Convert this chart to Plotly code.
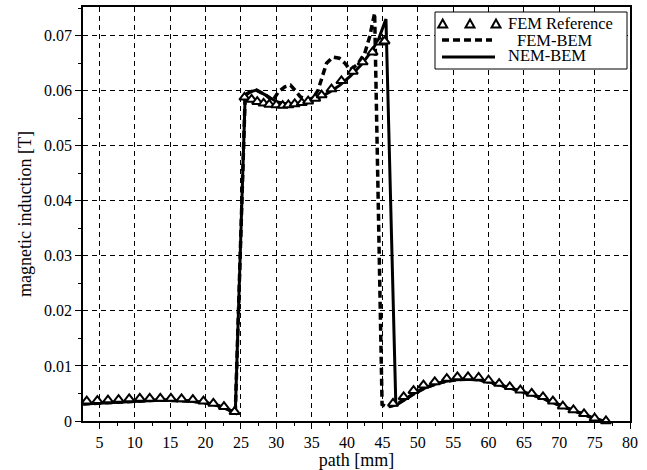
import plotly.graph_objects as go

# FEM Reference (triangles)
fem_x = [3.2, 4.7, 6.2, 7.7, 9.2, 10.7, 12.1, 13.6, 15.1, 16.6, 18.2, 19.7, 21.1, 22.6, 24.1,
         25.5, 26.5, 27.3, 28.2, 29.0, 30.0, 30.9, 31.7, 32.6, 33.6, 34.5, 35.5, 36.4, 37.8,
         39.2, 40.8, 42.2, 43.6, 44.7, 45.3,
         46.5, 48.0, 49.4, 50.8, 52.4, 54.1, 55.6, 57.1, 58.6, 60.0, 61.5, 63.0, 64.5, 66.1,
         67.7, 69.1, 70.5, 72.0, 73.5, 75.0, 76.6]
fem_y = [0.0036, 0.0037, 0.0038, 0.0039, 0.0040, 0.0041, 0.0041, 0.0041, 0.0041, 0.0040, 0.0039, 0.0036, 0.0032, 0.0026, 0.0017,
         0.0588, 0.0584, 0.0580, 0.0577, 0.0575, 0.0574, 0.0573, 0.0574, 0.0576, 0.0578, 0.0581, 0.0586, 0.0592, 0.0603,
         0.0618, 0.0635, 0.0652, 0.0670, 0.0688, 0.0690,
         0.0032, 0.0044, 0.0055, 0.0065, 0.0071, 0.0077, 0.0080, 0.0080, 0.0079, 0.0074, 0.0068, 0.0062, 0.0056, 0.0050,
         0.0044, 0.0036, 0.0027, 0.0020, 0.0013, 0.0005, 0.0000]

# NEM-BEM (solid)
nem_x = [2.7, 4, 6, 8, 10, 12, 14, 16, 18, 20, 21.5, 23, 24.2,
         25.6, 26.3, 27.2, 28.5, 30, 31.5, 33, 34.5, 36, 37.5, 39, 40.5, 42, 43.5, 44.5, 45.5,
         46.9, 48, 49.5, 51, 52.5, 54, 55.5, 57, 58.5, 60, 61.5, 63, 64.5, 66, 67.5, 69, 70.5,
         72, 73.5, 75, 76.2]
nem_y = [0.0031, 0.0032, 0.0033, 0.0035, 0.0036, 0.0037, 0.0038, 0.0037, 0.0036, 0.0033, 0.0029, 0.0022, 0.0015,
         0.0592, 0.0598, 0.0601, 0.0592, 0.0580, 0.0576, 0.0577, 0.0580, 0.0587, 0.0597, 0.0610, 0.0627, 0.0647, 0.0672, 0.0695, 0.0730,
         0.0028, 0.0038, 0.0050, 0.0060, 0.0067, 0.0072, 0.0075, 0.0076, 0.0075, 0.0071, 0.0066, 0.0060, 0.0054, 0.0048, 0.0042, 0.0034, 0.0026,
         0.0019, 0.0012, 0.0004, 0.0000]

# FEM-BEM (dashed)
fbem_x = [2.7, 4, 6, 8, 10, 12, 14, 16, 18, 20, 21.5, 23, 24.2,
          25.6, 26.3, 27.2, 28.5, 29.5, 30.3, 31.2, 32.0, 32.7, 33.4, 34.5, 35.3, 35.9, 36.5, 37.1, 38.0,
          38.9, 39.7, 40.4, 41.5, 42.5, 43.2, 43.9, 44.95, 45.5, 46.3,
          46.9, 48, 49.5, 51, 52.5, 54, 55.5, 57, 58.5, 60, 61.5, 63, 64.5, 66, 67.5, 69, 70.5,
          72, 73.5, 75, 76.2]
fbem_y = [0.0031, 0.0032, 0.0033, 0.0035, 0.0036, 0.0037, 0.0038, 0.0037, 0.0036, 0.0033, 0.0029, 0.0022, 0.0015,
          0.0592, 0.0598, 0.0601, 0.0592, 0.0582, 0.0598, 0.0607, 0.0610, 0.0600, 0.0589, 0.0582, 0.0588, 0.0601, 0.0625, 0.0650, 0.0661,
          0.0659, 0.0650, 0.0638, 0.0648, 0.0668, 0.0698, 0.0741, 0.0030, 0.0026, 0.0027,
          0.0030, 0.0038, 0.0050, 0.0060, 0.0067, 0.0072, 0.0075, 0.0076, 0.0075, 0.0071, 0.0066, 0.0060, 0.0054, 0.0048, 0.0042, 0.0034, 0.0026,
          0.0019, 0.0012, 0.0004, 0.0000]

x_ticks = [5, 10, 15, 20, 25, 30, 35, 40, 45, 50, 55, 60, 65, 70, 75, 80]
y_ticks = [0, 0.01, 0.02, 0.03, 0.04, 0.05, 0.06, 0.07]
y_labels = ["0", "0.01", "0.02", "0.03", "0.04", "0.05", "0.06", "0.07"]
legend_names = ["FEM Reference", "FEM-BEM", "NEM-BEM"]

FONT = "Liberation Serif"

W, H = 647, 470
L, R, T, B = 83, 17, 7, 49
PW, PH = W - L - R, H - T - B


def px(xp):
    return (xp - L) / PW


def py(yp):
    return (H - B - yp) / PH


fig = go.Figure()
fig.add_trace(go.Scatter(x=fbem_x, y=fbem_y, mode="lines", name=legend_names[1],
                         line=dict(color="black", width=3.5, dash="7px,4px")))
fig.add_trace(go.Scatter(x=nem_x, y=nem_y, mode="lines", name=legend_names[2],
                         line=dict(color="black", width=3)))
fig.add_trace(go.Scatter(x=fem_x, y=fem_y, mode="markers", name=legend_names[0],
                         marker=dict(symbol="triangle-up", size=9, color="white",
                                     line=dict(color="black", width=2)),
                         cliponaxis=False))

axis_common = dict(showline=True, linecolor="black", linewidth=1.5, mirror=True,
                   ticks="outside", ticklen=6, tickcolor="black", tickwidth=1,
                   showgrid=True, gridcolor="black", gridwidth=1, griddash="5px,4px",
                   zeroline=False, automargin=False,
                   tickfont=dict(family=FONT, size=16, color="black"))

fig.update_xaxes(range=[2.67, 80], tickvals=x_ticks,
                 minor=dict(ticks="outside", ticklen=3, dtick=2.5, tick0=0, tickcolor="black", showgrid=False),
                 title=dict(text="path [mm]", font=dict(family=FONT, size=18, color="black"), standoff=2),
                 **axis_common)
fig.update_yaxes(range=[0, 0.0752], tickvals=y_ticks, ticktext=y_labels,
                 minor=dict(ticks="outside", ticklen=3, dtick=0.005, tick0=0, tickcolor="black", showgrid=False),
                 title=dict(text="magnetic induction [T]", font=dict(family=FONT, size=18, color="black"), standoff=8),
                 **axis_common)

# custom legend box (decoration in paper coordinates)
shapes = [dict(type="rect", xref="paper", yref="paper", x0=px(435), x1=px(627), y0=py(69), y1=py(12),
               line=dict(color="black", width=1), fillcolor="white", layer="above")]
for tx in [442.7, 470, 496]:
    ty = 24
    path = "M {:.5f},{:.5f} L {:.5f},{:.5f} L {:.5f},{:.5f} Z".format(
        px(tx - 4.5), py(ty + 3.5), px(tx + 4.5), py(ty + 3.5), px(tx), py(ty - 4.5))
    shapes.append(dict(type="path", xref="paper", yref="paper", path=path,
                       line=dict(color="black", width=2), fillcolor="white", layer="above"))
shapes.append(dict(type="line", xref="paper", yref="paper", x0=px(442), x1=px(492), y0=py(40), y1=py(40),
                   line=dict(color="black", width=3.5, dash="7px,4px"), layer="above"))
shapes.append(dict(type="line", xref="paper", yref="paper", x0=px(442), x1=px(495), y0=py(57), y1=py(57),
                   line=dict(color="black", width=3), layer="above"))

annotations = []
for name, tx, ty in [(legend_names[0], 506, 24), (legend_names[1], 515, 40), (legend_names[2], 506, 56)]:
    annotations.append(dict(xref="paper", yref="paper", x=px(tx), y=py(ty), text=name, showarrow=False,
                            xanchor="left", yanchor="middle",
                            font=dict(family=FONT, size=16.5, color="black")))

fig.update_layout(
    width=W, height=H,
    margin=dict(l=L, r=R, t=T, b=B),
    plot_bgcolor="white", paper_bgcolor="white",
    font=dict(family=FONT, color="black"),
    showlegend=False,
    shapes=shapes,
    annotations=annotations,
)

fig.write_html("out.html",
               config={"displayModeBar": False},
               post_script="document.body.style.margin='0';document.body.style.overflow='hidden';")
